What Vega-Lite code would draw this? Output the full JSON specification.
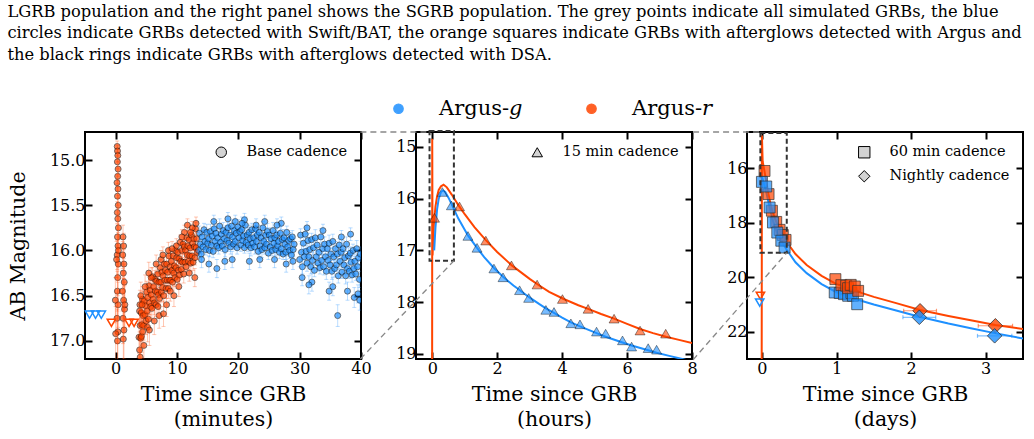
{
  "$schema": "https://vega.github.io/schema/vega-lite/v6.json",
  "padding": {"left": 7, "top": 3, "right": 4, "bottom": 4},
  "title": {
    "text": [
      "LGRB population and the right panel shows the SGRB population.  The grey points indicate all simulated GRBs, the blue",
      "circles indicate GRBs detected with Swift/BAT, the orange squares indicate GRBs with afterglows detected with Argus and",
      "the black rings indicate GRBs with afterglows detected with DSA."
    ],
    "anchor": "start",
    "frame": "bounds",
    "dx": 0,
    "font": "DejaVu Serif",
    "fontSize": 16.3,
    "fontWeight": "normal",
    "lineHeight": 21.5,
    "color": "black",
    "offset": 35
  },
  "bounds": "flush",
  "spacing": 55,
  "datasets": {
    "p1": [
      {"t":0.25,"m":14.85,"e":0.06,"b":"r"},{"t":0.3,"m":14.9,"e":0.06,"b":"r"},{"t":0.35,"m":14.95,"e":0.07,"b":"r"},
      {"t":0.28,"m":15.02,"e":0.07,"b":"r"},{"t":0.4,"m":15.1,"e":0.08,"b":"r"},{"t":0.33,"m":15.18,"e":0.08,"b":"r"},
      {"t":0.22,"m":15.25,"e":0.09,"b":"r"},{"t":0.38,"m":15.32,"e":0.1,"b":"r"},{"t":0.3,"m":15.4,"e":0.1,"b":"r"},
      {"t":0.42,"m":15.5,"e":0.11,"b":"r"},{"t":0.27,"m":15.58,"e":0.12,"b":"r"},{"t":0.35,"m":15.65,"e":0.12,"b":"r"},
      {"t":0.45,"m":15.75,"e":0.13,"b":"r"},{"t":0.3,"m":15.85,"e":0.14,"b":"r"},{"t":0.38,"m":15.95,"e":0.15,"b":"r"},
      {"t":0.25,"m":16.05,"e":0.16,"b":"r"},{"t":0.42,"m":16.15,"e":0.18,"b":"r"},{"t":0.33,"m":16.3,"e":0.2,"b":"r"},
      {"t":0.28,"m":16.45,"e":0.22,"b":"r"},{"t":0.4,"m":16.6,"e":0.25,"b":"r"},{"t":0.22,"m":16.75,"e":0.28,"b":"r"},
      {"t":0.36,"m":16.9,"e":0.32,"b":"r"},{"t":0.3,"m":17.0,"e":0.35,"b":"r"},{"t":0.15,"m":16.1,"e":0.2,"b":"r"},
      {"t":0.45,"m":16.0,"e":0.18,"b":"r"},{"t":0.0,"m":16.92,"e":0.3,"b":"r"},{"t":-0.05,"m":16.55,"e":0.25,"b":"r"},
      {"t":1.2,"m":15.85,"e":0.13,"b":"r"},{"t":1.3,"m":15.95,"e":0.14,"b":"r"},{"t":1.15,"m":16.05,"e":0.15,"b":"r"},
      {"t":1.35,"m":16.15,"e":0.16,"b":"r"},{"t":1.25,"m":16.25,"e":0.18,"b":"r"},{"t":1.4,"m":16.35,"e":0.2,"b":"r"},
      {"t":1.1,"m":16.45,"e":0.22,"b":"r"},{"t":1.3,"m":16.55,"e":0.24,"b":"r"},{"t":1.45,"m":16.65,"e":0.26,"b":"r"},
      {"t":1.2,"m":16.75,"e":0.28,"b":"r"},{"t":1.35,"m":16.88,"e":0.32,"b":"r"},{"t":1.25,"m":16.98,"e":0.36,"b":"r"},
      {"t":1.5,"m":16.6,"e":0.25,"b":"r"},
      {"t":3.8,"m":16.96,"e":0.18,"b":"r"},{"t":3.9,"m":16.67,"e":0.16,"b":"r"},{"t":3.99,"m":16.83,"e":0.17,"b":"r"},
      {"t":4.09,"m":16.97,"e":0.18,"b":"r"},{"t":4.18,"m":16.69,"e":0.15,"b":"r"},{"t":4.28,"m":16.82,"e":0.16,"b":"r"},
      {"t":4.38,"m":16.54,"e":0.14,"b":"r"},{"t":4.47,"m":16.72,"e":0.15,"b":"r"},{"t":4.57,"m":16.83,"e":0.16,"b":"r"},
      {"t":4.66,"m":16.56,"e":0.13,"b":"r"},{"t":4.76,"m":16.71,"e":0.14,"b":"r"},{"t":4.86,"m":16.61,"e":0.13,"b":"r"},
      {"t":4.95,"m":16.78,"e":0.15,"b":"r"},{"t":5.05,"m":16.46,"e":0.12,"b":"r"},{"t":5.14,"m":16.67,"e":0.14,"b":"r"},
      {"t":5.24,"m":16.52,"e":0.12,"b":"r"},{"t":5.34,"m":16.76,"e":0.15,"b":"r"},{"t":5.43,"m":16.39,"e":0.11,"b":"r"},
      {"t":5.53,"m":16.58,"e":0.13,"b":"r"},{"t":5.62,"m":16.44,"e":0.12,"b":"r"},{"t":5.72,"m":16.62,"e":0.13,"b":"r"},
      {"t":5.82,"m":16.49,"e":0.11,"b":"r"},{"t":5.91,"m":16.64,"e":0.13,"b":"r"},{"t":6.01,"m":16.29,"e":0.1,"b":"r"},
      {"t":6.1,"m":16.54,"e":0.12,"b":"r"},{"t":6.2,"m":16.4,"e":0.11,"b":"r"},{"t":6.3,"m":16.58,"e":0.13,"b":"r"},
      {"t":6.39,"m":16.32,"e":0.1,"b":"r"},{"t":6.49,"m":16.45,"e":0.11,"b":"r"},{"t":6.58,"m":16.6,"e":0.13,"b":"r"},
      {"t":6.68,"m":16.34,"e":0.1,"b":"r"},{"t":6.78,"m":16.46,"e":0.11,"b":"r"},{"t":6.87,"m":16.26,"e":0.1,"b":"r"},
      {"t":6.97,"m":16.49,"e":0.12,"b":"r"},{"t":7.06,"m":16.35,"e":0.1,"b":"r"},{"t":7.16,"m":16.53,"e":0.12,"b":"r"},
      {"t":7.26,"m":16.19,"e":0.09,"b":"r"},{"t":7.35,"m":16.35,"e":0.1,"b":"r"},{"t":7.45,"m":16.46,"e":0.11,"b":"r"},
      {"t":7.54,"m":16.24,"e":0.09,"b":"r"},{"t":7.64,"m":16.41,"e":0.11,"b":"r"},{"t":7.74,"m":16.28,"e":0.1,"b":"r"},
      {"t":7.83,"m":16.5,"e":0.12,"b":"r"},{"t":7.93,"m":16.15,"e":0.09,"b":"r"},{"t":8.02,"m":16.33,"e":0.1,"b":"r"},
      {"t":8.12,"m":16.22,"e":0.09,"b":"r"},{"t":8.22,"m":16.42,"e":0.11,"b":"r"},{"t":8.31,"m":16.15,"e":0.09,"b":"r"},
      {"t":8.41,"m":16.33,"e":0.1,"b":"r"},{"t":8.5,"m":16.24,"e":0.09,"b":"r"},{"t":8.6,"m":16.42,"e":0.11,"b":"r"},
      {"t":8.7,"m":16.06,"e":0.08,"b":"r"},{"t":8.79,"m":16.33,"e":0.1,"b":"r"},{"t":8.89,"m":16.18,"e":0.09,"b":"r"},
      {"t":8.98,"m":16.33,"e":0.1,"b":"r"},{"t":9.08,"m":16.12,"e":0.09,"b":"r"},{"t":9.18,"m":16.22,"e":0.09,"b":"r"},
      {"t":9.27,"m":16.35,"e":0.1,"b":"r"},{"t":9.37,"m":16.06,"e":0.08,"b":"r"},{"t":9.46,"m":16.25,"e":0.09,"b":"r"},
      {"t":9.56,"m":16.17,"e":0.09,"b":"r"},{"t":9.66,"m":16.3,"e":0.1,"b":"r"},{"t":9.75,"m":16.0,"e":0.08,"b":"r"},
      {"t":9.85,"m":16.19,"e":0.09,"b":"r"},{"t":9.94,"m":16.08,"e":0.08,"b":"r"},{"t":10.04,"m":16.32,"e":0.1,"b":"r"},
      {"t":10.14,"m":16.02,"e":0.08,"b":"r"},{"t":10.23,"m":16.22,"e":0.09,"b":"r"},{"t":10.33,"m":16.09,"e":0.08,"b":"r"},
      {"t":10.42,"m":16.27,"e":0.1,"b":"r"},{"t":10.52,"m":15.91,"e":0.08,"b":"r"},{"t":10.62,"m":16.12,"e":0.09,"b":"r"},
      {"t":10.71,"m":16.21,"e":0.09,"b":"r"},{"t":10.81,"m":16.0,"e":0.08,"b":"r"},{"t":10.9,"m":16.13,"e":0.09,"b":"r"},
      {"t":11.0,"m":15.93,"e":0.08,"b":"r"},{"t":11.1,"m":16.26,"e":0.1,"b":"r"},{"t":11.19,"m":15.96,"e":0.08,"b":"r"},
      {"t":11.29,"m":16.13,"e":0.09,"b":"r"},{"t":11.38,"m":16.0,"e":0.08,"b":"r"},{"t":11.48,"m":16.18,"e":0.09,"b":"r"},
      {"t":11.58,"m":15.86,"e":0.08,"b":"r"},{"t":11.67,"m":16.05,"e":0.08,"b":"r"},{"t":11.77,"m":15.95,"e":0.08,"b":"r"},
      {"t":11.86,"m":16.12,"e":0.09,"b":"r"},{"t":11.96,"m":15.88,"e":0.08,"b":"r"},{"t":12.06,"m":16.06,"e":0.08,"b":"r"},
      {"t":12.15,"m":15.97,"e":0.08,"b":"r"},{"t":12.25,"m":16.14,"e":0.09,"b":"r"},{"t":12.34,"m":15.83,"e":0.07,"b":"r"},
      {"t":12.44,"m":16.06,"e":0.08,"b":"r"},{"t":12.54,"m":15.92,"e":0.08,"b":"r"},{"t":12.63,"m":16.13,"e":0.09,"b":"r"},
      {"t":12.73,"m":15.87,"e":0.08,"b":"r"},{"t":12.82,"m":15.96,"e":0.08,"b":"r"},{"t":12.92,"m":16.08,"e":0.08,"b":"r"},
      {"t":13.02,"m":15.76,"e":0.07,"b":"r"},{"t":13.11,"m":15.97,"e":0.08,"b":"r"},{"t":13.21,"m":15.87,"e":0.07,"b":"r"},
      {"t":13.3,"m":16.02,"e":0.08,"b":"r"},
      {"t":3.9,"m":17.1,"e":0.2,"b":"r"},{"t":4.0,"m":17.18,"e":0.22,"b":"r"},{"t":4.2,"m":16.95,"e":0.18,"b":"r"},
      {"t":4.1,"m":16.5,"e":0.15,"b":"r"},{"t":4.4,"m":16.9,"e":0.17,"b":"r"},{"t":4.6,"m":17.05,"e":0.2,"b":"r"},
      {"t":5.2,"m":16.85,"e":0.16,"b":"r"},{"t":5.5,"m":16.88,"e":0.17,"b":"r"},{"t":6.3,"m":16.78,"e":0.15,"b":"r"},
      {"t":7.1,"m":16.72,"e":0.14,"b":"r"},{"t":7.8,"m":16.7,"e":0.14,"b":"r"},{"t":8.3,"m":16.6,"e":0.13,"b":"r"},
      {"t":9.5,"m":16.5,"e":0.12,"b":"r"},{"t":11.7,"m":15.72,"e":0.07,"b":"r"},{"t":12.5,"m":15.75,"e":0.07,"b":"r"},
      {"t":12.9,"m":16.3,"e":0.1,"b":"r"},{"t":3.95,"m":16.6,"e":0.16,"b":"r"},{"t":4.3,"m":16.6,"e":0.15,"b":"r"},
      {"t":5.8,"m":16.3,"e":0.11,"b":"r"},{"t":6.6,"m":16.15,"e":0.1,"b":"r"},{"t":7.4,"m":16.1,"e":0.1,"b":"r"},
      {"t":8.6,"m":16.0,"e":0.09,"b":"r"},{"t":9.9,"m":15.95,"e":0.08,"b":"r"},{"t":11.2,"m":15.8,"e":0.08,"b":"r"},
      {"t":12.2,"m":15.8,"e":0.07,"b":"r"},{"t":13.1,"m":15.7,"e":0.07,"b":"r"},{"t":4.8,"m":16.4,"e":0.13,"b":"r"},
      {"t":5.4,"m":16.25,"e":0.12,"b":"r"},{"t":6.9,"m":16.62,"e":0.13,"b":"r"},{"t":8.9,"m":16.45,"e":0.11,"b":"r"},
      {"t":10.3,"m":16.4,"e":0.11,"b":"r"},{"t":10.8,"m":15.85,"e":0.08,"b":"r"},{"t":12.0,"m":16.25,"e":0.09,"b":"r"},
      {"t":9.2,"m":15.98,"e":0.08,"b":"r"},{"t":7.7,"m":16.05,"e":0.09,"b":"r"},
      {"t":13.5,"m":16.0,"e":0.07,"b":"g"},{"t":13.65,"m":15.81,"e":0.08,"b":"g"},{"t":13.8,"m":15.93,"e":0.06,"b":"g"},
      {"t":13.95,"m":16.04,"e":0.09,"b":"g"},{"t":14.1,"m":15.85,"e":0.07,"b":"g"},{"t":14.25,"m":15.96,"e":0.08,"b":"g"},
      {"t":14.4,"m":15.77,"e":0.07,"b":"g"},{"t":14.55,"m":15.9,"e":0.08,"b":"g"},{"t":14.7,"m":15.99,"e":0.06,"b":"g"},
      {"t":14.85,"m":15.8,"e":0.09,"b":"g"},{"t":15.0,"m":15.92,"e":0.07,"b":"g"},{"t":15.15,"m":15.87,"e":0.08,"b":"g"},
      {"t":15.3,"m":16.0,"e":0.07,"b":"g"},{"t":15.45,"m":15.79,"e":0.08,"b":"g"},{"t":15.6,"m":15.94,"e":0.06,"b":"g"},
      {"t":15.75,"m":15.84,"e":0.09,"b":"g"},{"t":15.9,"m":16.01,"e":0.07,"b":"g"},{"t":16.05,"m":15.76,"e":0.08,"b":"g"},
      {"t":16.2,"m":15.9,"e":0.07,"b":"g"},{"t":16.35,"m":15.81,"e":0.08,"b":"g"},{"t":16.5,"m":15.95,"e":0.06,"b":"g"},
      {"t":16.65,"m":15.86,"e":0.09,"b":"g"},{"t":16.8,"m":15.97,"e":0.07,"b":"g"},{"t":16.95,"m":15.73,"e":0.08,"b":"g"},
      {"t":17.1,"m":15.91,"e":0.07,"b":"g"},{"t":17.25,"m":15.82,"e":0.08,"b":"g"},{"t":17.4,"m":15.95,"e":0.06,"b":"g"},
      {"t":17.55,"m":15.78,"e":0.09,"b":"g"},{"t":17.7,"m":15.87,"e":0.07,"b":"g"},{"t":17.85,"m":15.99,"e":0.08,"b":"g"},
      {"t":18.0,"m":15.8,"e":0.07,"b":"g"},{"t":18.15,"m":15.89,"e":0.08,"b":"g"},{"t":18.3,"m":15.75,"e":0.06,"b":"g"},
      {"t":18.45,"m":15.92,"e":0.09,"b":"g"},{"t":18.6,"m":15.83,"e":0.07,"b":"g"},{"t":18.75,"m":15.96,"e":0.08,"b":"g"},
      {"t":18.9,"m":15.73,"e":0.07,"b":"g"},{"t":19.05,"m":15.85,"e":0.08,"b":"g"},{"t":19.2,"m":15.93,"e":0.06,"b":"g"},
      {"t":19.35,"m":15.78,"e":0.09,"b":"g"},{"t":19.5,"m":15.9,"e":0.07,"b":"g"},{"t":19.65,"m":15.81,"e":0.08,"b":"g"},
      {"t":19.8,"m":15.97,"e":0.07,"b":"g"},{"t":19.95,"m":15.74,"e":0.08,"b":"g"},{"t":20.1,"m":15.86,"e":0.06,"b":"g"},
      {"t":20.25,"m":15.79,"e":0.09,"b":"g"},{"t":20.4,"m":15.94,"e":0.07,"b":"g"},{"t":20.55,"m":15.77,"e":0.08,"b":"g"},
      {"t":20.7,"m":15.89,"e":0.07,"b":"g"},{"t":20.85,"m":15.84,"e":0.08,"b":"g"},{"t":21.0,"m":15.97,"e":0.06,"b":"g"},
      {"t":21.15,"m":15.72,"e":0.09,"b":"g"},{"t":21.3,"m":15.91,"e":0.07,"b":"g"},{"t":21.45,"m":15.83,"e":0.08,"b":"g"},
      {"t":21.6,"m":15.94,"e":0.07,"b":"g"},{"t":21.75,"m":15.8,"e":0.08,"b":"g"},{"t":21.9,"m":15.87,"e":0.06,"b":"g"},
      {"t":22.05,"m":15.97,"e":0.09,"b":"g"},{"t":22.2,"m":15.77,"e":0.07,"b":"g"},{"t":22.35,"m":15.92,"e":0.08,"b":"g"},
      {"t":22.5,"m":15.86,"e":0.07,"b":"g"},{"t":22.65,"m":15.96,"e":0.08,"b":"g"},{"t":22.8,"m":15.76,"e":0.06,"b":"g"},
      {"t":22.95,"m":15.9,"e":0.09,"b":"g"},{"t":23.1,"m":15.83,"e":0.07,"b":"g"},{"t":23.25,"m":16.01,"e":0.08,"b":"g"},
      {"t":23.4,"m":15.8,"e":0.07,"b":"g"},{"t":23.55,"m":15.95,"e":0.08,"b":"g"},{"t":23.7,"m":15.86,"e":0.06,"b":"g"},
      {"t":23.85,"m":15.99,"e":0.09,"b":"g"},{"t":24.0,"m":15.75,"e":0.07,"b":"g"},{"t":24.15,"m":15.9,"e":0.08,"b":"g"},
      {"t":24.3,"m":15.97,"e":0.07,"b":"g"},{"t":24.45,"m":15.83,"e":0.08,"b":"g"},{"t":24.6,"m":15.93,"e":0.06,"b":"g"},
      {"t":24.75,"m":15.79,"e":0.09,"b":"g"},{"t":24.9,"m":16.03,"e":0.07,"b":"g"},{"t":25.05,"m":15.83,"e":0.08,"b":"g"},
      {"t":25.2,"m":15.96,"e":0.07,"b":"g"},{"t":25.35,"m":15.87,"e":0.08,"b":"g"},{"t":25.5,"m":16.0,"e":0.06,"b":"g"},
      {"t":25.65,"m":15.78,"e":0.09,"b":"g"},{"t":25.8,"m":15.92,"e":0.07,"b":"g"},{"t":25.95,"m":15.86,"e":0.08,"b":"g"},
      {"t":26.1,"m":15.99,"e":0.07,"b":"g"},{"t":26.25,"m":15.83,"e":0.08,"b":"g"},{"t":26.4,"m":15.95,"e":0.06,"b":"g"},
      {"t":26.55,"m":15.9,"e":0.09,"b":"g"},{"t":26.7,"m":16.02,"e":0.07,"b":"g"},{"t":26.85,"m":15.81,"e":0.08,"b":"g"},
      {"t":27.0,"m":15.98,"e":0.07,"b":"g"},{"t":27.15,"m":15.88,"e":0.08,"b":"g"},{"t":27.3,"m":16.04,"e":0.06,"b":"g"},
      {"t":27.45,"m":15.86,"e":0.09,"b":"g"},{"t":27.6,"m":15.93,"e":0.07,"b":"g"},{"t":27.75,"m":16.02,"e":0.08,"b":"g"},
      {"t":27.9,"m":15.8,"e":0.07,"b":"g"},{"t":28.05,"m":15.96,"e":0.08,"b":"g"},{"t":28.2,"m":15.89,"e":0.06,"b":"g"},
      {"t":28.35,"m":16.0,"e":0.09,"b":"g"},{"t":28.5,"m":15.87,"e":0.07,"b":"g"},{"t":28.65,"m":16.05,"e":0.08,"b":"g"},
      {"t":28.8,"m":15.85,"e":0.07,"b":"g"},{"t":28.95,"m":15.99,"e":0.08,"b":"g"},{"t":29.1,"m":15.93,"e":0.06,"b":"g"},
      {"t":14.0,"m":16.1,"e":0.09,"b":"g"},{"t":15.2,"m":16.15,"e":0.09,"b":"g"},{"t":16.5,"m":16.2,"e":0.1,"b":"g"},
      {"t":17.8,"m":16.12,"e":0.09,"b":"g"},{"t":19.0,"m":16.1,"e":0.09,"b":"g"},{"t":21.8,"m":16.12,"e":0.09,"b":"g"},
      {"t":23.5,"m":16.1,"e":0.09,"b":"g"},{"t":25.9,"m":16.1,"e":0.09,"b":"g"},{"t":27.8,"m":16.15,"e":0.09,"b":"g"},
      {"t":28.9,"m":16.12,"e":0.09,"b":"g"},{"t":16.0,"m":15.68,"e":0.07,"b":"g"},{"t":19.5,"m":15.68,"e":0.07,"b":"g"},
      {"t":21.0,"m":15.66,"e":0.07,"b":"g"},{"t":24.3,"m":15.68,"e":0.07,"b":"g"},{"t":27.0,"m":15.7,"e":0.07,"b":"g"},
      {"t":18.3,"m":15.65,"e":0.07,"b":"g"},{"t":20.6,"m":15.7,"e":0.07,"b":"g"},{"t":22.9,"m":15.72,"e":0.07,"b":"g"},
      {"t":26.3,"m":15.72,"e":0.07,"b":"g"},
      {"t":30.0,"m":16.1,"e":0.08,"b":"g"},{"t":30.15,"m":15.83,"e":0.07,"b":"g"},{"t":30.3,"m":16.02,"e":0.09,"b":"g"},
      {"t":30.45,"m":16.18,"e":0.08,"b":"g"},{"t":30.6,"m":15.92,"e":0.07,"b":"g"},{"t":30.75,"m":16.07,"e":0.09,"b":"g"},
      {"t":30.9,"m":15.82,"e":0.08,"b":"g"},{"t":31.05,"m":16.01,"e":0.07,"b":"g"},{"t":31.2,"m":16.14,"e":0.09,"b":"g"},
      {"t":31.35,"m":15.89,"e":0.08,"b":"g"},{"t":31.5,"m":16.07,"e":0.07,"b":"g"},{"t":31.65,"m":15.99,"e":0.09,"b":"g"},
      {"t":31.8,"m":16.18,"e":0.08,"b":"g"},{"t":31.95,"m":15.88,"e":0.07,"b":"g"},{"t":32.1,"m":16.11,"e":0.09,"b":"g"},
      {"t":32.25,"m":15.97,"e":0.08,"b":"g"},{"t":32.4,"m":16.22,"e":0.07,"b":"g"},{"t":32.55,"m":15.86,"e":0.09,"b":"g"},
      {"t":32.7,"m":16.07,"e":0.08,"b":"g"},{"t":32.85,"m":15.94,"e":0.07,"b":"g"},{"t":33.0,"m":16.14,"e":0.09,"b":"g"},
      {"t":33.15,"m":16.02,"e":0.08,"b":"g"},{"t":33.3,"m":16.19,"e":0.07,"b":"g"},{"t":33.45,"m":15.85,"e":0.09,"b":"g"},
      {"t":33.6,"m":16.11,"e":0.08,"b":"g"},{"t":33.75,"m":15.98,"e":0.07,"b":"g"},{"t":33.9,"m":16.18,"e":0.09,"b":"g"},
      {"t":34.05,"m":15.93,"e":0.08,"b":"g"},{"t":34.2,"m":16.07,"e":0.07,"b":"g"},{"t":34.35,"m":16.23,"e":0.09,"b":"g"},
      {"t":34.5,"m":15.98,"e":0.08,"b":"g"},{"t":34.65,"m":16.11,"e":0.07,"b":"g"},{"t":34.8,"m":15.92,"e":0.09,"b":"g"},
      {"t":34.95,"m":16.16,"e":0.08,"b":"g"},{"t":35.1,"m":16.04,"e":0.07,"b":"g"},{"t":35.25,"m":16.23,"e":0.09,"b":"g"},
      {"t":35.4,"m":15.9,"e":0.08,"b":"g"},{"t":35.55,"m":16.07,"e":0.07,"b":"g"},{"t":35.7,"m":16.2,"e":0.09,"b":"g"},
      {"t":35.85,"m":15.98,"e":0.08,"b":"g"},{"t":36.0,"m":16.16,"e":0.07,"b":"g"},{"t":36.15,"m":16.04,"e":0.09,"b":"g"},
      {"t":36.3,"m":16.28,"e":0.08,"b":"g"},{"t":36.45,"m":15.94,"e":0.07,"b":"g"},{"t":36.6,"m":16.12,"e":0.09,"b":"g"},
      {"t":36.75,"m":16.02,"e":0.08,"b":"g"},{"t":36.9,"m":16.24,"e":0.07,"b":"g"},{"t":37.05,"m":15.98,"e":0.09,"b":"g"},
      {"t":37.2,"m":16.16,"e":0.08,"b":"g"},{"t":37.35,"m":16.08,"e":0.07,"b":"g"},{"t":37.5,"m":16.28,"e":0.09,"b":"g"},
      {"t":37.65,"m":15.93,"e":0.08,"b":"g"},{"t":37.8,"m":16.2,"e":0.07,"b":"g"},{"t":37.95,"m":16.06,"e":0.09,"b":"g"},
      {"t":38.1,"m":16.23,"e":0.08,"b":"g"},{"t":38.25,"m":16.03,"e":0.07,"b":"g"},{"t":38.4,"m":16.13,"e":0.09,"b":"g"},
      {"t":38.55,"m":16.27,"e":0.08,"b":"g"},{"t":38.7,"m":16.0,"e":0.07,"b":"g"},{"t":38.85,"m":16.2,"e":0.09,"b":"g"},
      {"t":39.0,"m":16.12,"e":0.08,"b":"g"},{"t":39.15,"m":16.26,"e":0.07,"b":"g"},{"t":39.3,"m":15.98,"e":0.09,"b":"g"},
      {"t":39.45,"m":16.18,"e":0.08,"b":"g"},{"t":39.6,"m":16.08,"e":0.07,"b":"g"},{"t":39.75,"m":16.32,"e":0.09,"b":"g"},
      {"t":39.9,"m":16.04,"e":0.08,"b":"g"},
      {"t":32.0,"m":16.35,"e":0.1,"b":"g"},{"t":31.5,"m":16.38,"e":0.1,"b":"g"},{"t":34.8,"m":16.45,"e":0.1,"b":"g"},
      {"t":36.2,"m":16.72,"e":0.12,"b":"g"},{"t":37.8,"m":16.45,"e":0.1,"b":"g"},{"t":38.9,"m":16.52,"e":0.11,"b":"g"},
      {"t":39.5,"m":16.48,"e":0.1,"b":"g"},{"t":31.2,"m":15.75,"e":0.07,"b":"g"},{"t":33.8,"m":15.78,"e":0.07,"b":"g"},
      {"t":36.8,"m":15.85,"e":0.07,"b":"g"},{"t":38.3,"m":15.82,"e":0.07,"b":"g"},{"t":35.4,"m":16.4,"e":0.1,"b":"g"},
      {"t":30.4,"m":16.3,"e":0.09,"b":"g"},{"t":39.8,"m":16.55,"e":0.11,"b":"g"}
    ],
    "p1lim": [
      {"t":-4.26,"m":16.71,"b":"g"},{"t":-3.28,"m":16.71,"b":"g"},{"t":-2.34,"m":16.71,"b":"g"},
      {"t":-0.7,"m":16.8,"b":"r"},{"t":2.18,"m":16.8,"b":"r"},{"t":3.0,"m":16.8,"b":"r"}
    ],
    "p2": [
      {"t":0.07,"m":16.37,"b":"r"},{"t":0.84,"m":16.15,"b":"r"},{"t":1.65,"m":16.81,"b":"r"},{"t":2.44,"m":17.29,"b":"r"},
      {"t":3.23,"m":17.66,"b":"r"},{"t":4.01,"m":17.94,"b":"r"},{"t":4.8,"m":18.13,"b":"r"},{"t":5.6,"m":18.32,"b":"r"},
      {"t":6.4,"m":18.55,"b":"r"},{"t":7.19,"m":18.61,"b":"r"},
      {"t":0.31,"m":15.87,"b":"g"},{"t":0.59,"m":16.13,"b":"g"},{"t":1.1,"m":16.72,"b":"g"},{"t":1.38,"m":16.95,"b":"g"},
      {"t":1.9,"m":17.35,"b":"g"},{"t":2.18,"m":17.52,"b":"g"},{"t":2.69,"m":17.77,"b":"g"},{"t":2.97,"m":17.92,"b":"g"},
      {"t":3.5,"m":18.15,"b":"g"},{"t":3.75,"m":18.19,"b":"g"},{"t":4.27,"m":18.41,"b":"g"},{"t":4.55,"m":18.43,"b":"g"},
      {"t":5.06,"m":18.57,"b":"g"},{"t":5.34,"m":18.61,"b":"g"},{"t":5.86,"m":18.74,"b":"g"},{"t":6.14,"m":18.86,"b":"g"},
      {"t":6.65,"m":18.89,"b":"g"},{"t":6.91,"m":18.92,"b":"g"}
    ],
    "p2c": [
      {"t":-0.003,"m":19.3,"b":"r"},{"t":0.0,"m":14.84,"b":"r"},{"t":0.01,"m":17.1,"b":"r"},{"t":0.05,"m":16.5,"b":"r"},
      {"t":0.1,"m":16.15,"b":"r"},{"t":0.15,"m":15.95,"b":"r"},{"t":0.2,"m":15.83,"b":"r"},{"t":0.27,"m":15.76,"b":"r"},
      {"t":0.35,"m":15.73,"b":"r"},{"t":0.45,"m":15.78,"b":"r"},{"t":0.6,"m":15.92,"b":"r"},{"t":0.8,"m":16.12,"b":"r"},
      {"t":1.0,"m":16.3,"b":"r"},{"t":1.3,"m":16.55,"b":"r"},{"t":1.65,"m":16.8,"b":"r"},{"t":2.0,"m":17.03,"b":"r"},
      {"t":2.45,"m":17.29,"b":"r"},{"t":3.0,"m":17.55,"b":"r"},{"t":3.25,"m":17.66,"b":"r"},{"t":3.6,"m":17.8,"b":"r"},
      {"t":4.05,"m":17.94,"b":"r"},{"t":4.5,"m":18.06,"b":"r"},{"t":4.8,"m":18.13,"b":"r"},{"t":5.2,"m":18.23,"b":"r"},
      {"t":5.6,"m":18.32,"b":"r"},{"t":6.0,"m":18.42,"b":"r"},{"t":6.4,"m":18.52,"b":"r"},{"t":6.8,"m":18.6,"b":"r"},
      {"t":7.2,"m":18.67,"b":"r"},{"t":7.6,"m":18.73,"b":"r"},{"t":8.0,"m":18.79,"b":"r"},
      {"t":0.06,"m":17.0,"b":"g"},{"t":0.1,"m":16.55,"b":"g"},{"t":0.15,"m":16.2,"b":"g"},{"t":0.2,"m":16.0,"b":"g"},
      {"t":0.27,"m":15.87,"b":"g"},{"t":0.33,"m":15.84,"b":"g"},{"t":0.4,"m":15.87,"b":"g"},{"t":0.5,"m":15.98,"b":"g"},
      {"t":0.6,"m":16.11,"b":"g"},{"t":0.8,"m":16.38,"b":"g"},{"t":1.0,"m":16.6,"b":"g"},{"t":1.1,"m":16.71,"b":"g"},
      {"t":1.38,"m":16.95,"b":"g"},{"t":1.6,"m":17.13,"b":"g"},{"t":1.9,"m":17.34,"b":"g"},{"t":2.18,"m":17.51,"b":"g"},
      {"t":2.5,"m":17.68,"b":"g"},{"t":2.7,"m":17.77,"b":"g"},{"t":2.97,"m":17.9,"b":"g"},{"t":3.3,"m":18.04,"b":"g"},
      {"t":3.5,"m":18.12,"b":"g"},{"t":3.75,"m":18.21,"b":"g"},{"t":4.0,"m":18.3,"b":"g"},{"t":4.27,"m":18.39,"b":"g"},
      {"t":4.55,"m":18.47,"b":"g"},{"t":5.06,"m":18.6,"b":"g"},{"t":5.34,"m":18.67,"b":"g"},{"t":5.86,"m":18.78,"b":"g"},
      {"t":6.14,"m":18.84,"b":"g"},{"t":6.65,"m":18.93,"b":"g"},{"t":6.91,"m":18.98,"b":"g"},{"t":7.3,"m":19.04,"b":"g"},
      {"t":7.7,"m":19.1,"b":"g"},{"t":8.0,"m":19.15,"b":"g"}
    ],
    "p3sq": [
      {"t":0.035,"m":16.1,"b":"r"},{"t":0.089,"m":16.95,"b":"r"},{"t":0.134,"m":17.56,"b":"r"},{"t":0.192,"m":17.97,"b":"r"},
      {"t":0.237,"m":18.26,"b":"r"},{"t":0.28,"m":18.45,"b":"r"},{"t":0.317,"m":18.63,"b":"r"},
      {"t":0.0,"m":16.5,"b":"g"},{"t":0.058,"m":16.67,"b":"g"},{"t":0.103,"m":17.44,"b":"g"},{"t":0.148,"m":17.99,"b":"g"},
      {"t":0.206,"m":18.36,"b":"g"},{"t":0.26,"m":18.66,"b":"g"},{"t":0.304,"m":18.91,"b":"g"},
      {"t":0.976,"m":20.56,"b":"g"},{"t":1.043,"m":20.58,"b":"g"},{"t":1.1,"m":20.62,"b":"g"},{"t":1.156,"m":20.68,"b":"g"},
      {"t":1.2,"m":20.58,"b":"g"},{"t":1.22,"m":20.68,"b":"g"},{"t":1.277,"m":20.99,"b":"g"},
      {"t":0.985,"m":20.07,"b":"r"},{"t":1.065,"m":20.29,"b":"r"},{"t":1.13,"m":20.31,"b":"r"},{"t":1.155,"m":20.4,"b":"r"},
      {"t":1.19,"m":20.28,"b":"r"},{"t":1.245,"m":20.34,"b":"r"},{"t":1.29,"m":20.5,"b":"r"}
    ],
    "p3dm": [
      {"t":2.12,"m":21.23,"xe":0.22,"b":"r"},{"t":2.11,"m":21.47,"xe":0.22,"b":"g"},
      {"t":3.13,"m":21.78,"xe":0.23,"b":"r"},{"t":3.12,"m":22.15,"xe":0.23,"b":"g"}
    ],
    "p3lim": [
      {"t":-0.02,"m":20.68,"b":"r"},{"t":-0.03,"m":20.93,"b":"g"}
    ],
    "p3c": [
      {"t":-0.003,"m":23.2,"b":"r"},{"t":0.0,"m":14.8,"b":"r"},{"t":0.01,"m":15.75,"b":"r"},{"t":0.02,"m":15.9,"b":"r"},
      {"t":0.04,"m":16.2,"b":"r"},{"t":0.08,"m":16.85,"b":"r"},{"t":0.13,"m":17.5,"b":"r"},{"t":0.19,"m":17.95,"b":"r"},
      {"t":0.25,"m":18.3,"b":"r"},{"t":0.33,"m":18.7,"b":"r"},{"t":0.45,"m":19.15,"b":"r"},{"t":0.6,"m":19.55,"b":"r"},
      {"t":0.8,"m":19.95,"b":"r"},{"t":1.0,"m":20.25,"b":"r"},{"t":1.25,"m":20.5,"b":"r"},{"t":1.5,"m":20.72,"b":"r"},
      {"t":1.8,"m":20.95,"b":"r"},{"t":2.12,"m":21.2,"b":"r"},{"t":2.5,"m":21.42,"b":"r"},{"t":2.8,"m":21.58,"b":"r"},
      {"t":3.13,"m":21.75,"b":"r"},{"t":3.5,"m":21.9,"b":"r"},
      {"t":0.0,"m":16.3,"b":"g"},{"t":0.03,"m":16.6,"b":"g"},{"t":0.06,"m":16.9,"b":"g"},{"t":0.1,"m":17.4,"b":"g"},
      {"t":0.15,"m":17.95,"b":"g"},{"t":0.2,"m":18.35,"b":"g"},{"t":0.26,"m":18.65,"b":"g"},{"t":0.33,"m":18.98,"b":"g"},
      {"t":0.45,"m":19.45,"b":"g"},{"t":0.6,"m":19.85,"b":"g"},{"t":0.8,"m":20.25,"b":"g"},{"t":1.0,"m":20.55,"b":"g"},
      {"t":1.25,"m":20.8,"b":"g"},{"t":1.5,"m":21.0,"b":"g"},{"t":1.8,"m":21.22,"b":"g"},{"t":2.11,"m":21.45,"b":"g"},
      {"t":2.5,"m":21.7,"b":"g"},{"t":2.8,"m":21.87,"b":"g"},{"t":3.12,"m":22.05,"b":"g"},{"t":3.5,"m":22.25,"b":"g"}
    ]
  },
  "hconcat": [
    {
      "width": 276,
      "height": 227,
      "layer": [
        {
          "data": {"name": "p1"},
          "mark": {"type": "point", "filled": true, "size": 36, "opacity": 0.68, "stroke": "black", "strokeWidth": 0.8, "clip": true},
          "encoding": {
            "x": {"field": "t", "type": "quantitative", "axis": null},
            "y": {"field": "m", "type": "quantitative", "axis": null},
            "color": {"field": "b", "type": "nominal",
              "legend": {"orient": "none", "legendX": 303, "legendY": -34, "direction": "horizontal", "title": null,
                         "symbolType": "circle", "symbolSize": 90, "symbolStrokeColor": "#222222", "symbolStrokeWidth": 1.2,
                         "symbolOpacity": 0.85, "labelFontSize": 21, "labelOffset": 30, "columnPadding": 58,
                         "labelExpr": "datum.label == 'g' ? 'Argus-𝑔' : 'Argus-𝑟'",
                         "encode": {"symbols": {"update": {"stroke": {"value": "#222222"}, "strokeWidth": {"value": 1.2}}}}}},
            "shape": {"datum": "Base cadence", "scale": {"range": ["circle"]},
              "legend": {"orient": "top-right", "offset": 13, "title": null, "symbolFillColor": "#d3d3d3", "symbolStrokeColor": "black",
                         "symbolStrokeWidth": 1, "symbolSize": 110, "symbolOpacity": 1, "labelFontSize": 14.5, "labelOffset": 18}}
          }
        },
        {
          "data": {"name": "p1"},
          "mark": {"type": "errorbar", "ticks": {"size": 4}, "thickness": 1, "opacity": 0.3, "clip": true},
          "encoding": {
            "x": {"field": "t", "type": "quantitative", "scale": {"domain": [-5, 40], "nice": false},
                  "axis": {"values": [0, 10, 20, 30, 40], "title": ["Time since GRB", "(minutes)"]}},
            "y": {"field": "m", "type": "quantitative", "scale": {"domain": [14.69, 17.2], "reverse": true, "nice": false, "zero": false},
                  "axis": {"values": [15, 15.5, 16, 16.5, 17], "format": ".1f", "title": "AB Magnitude"}},
            "yError": {"field": "e"},
            "color": {"field": "b", "type": "nominal"}
          }
        },
        {
          "data": {"name": "p1lim"},
          "mark": {"type": "point", "shape": "triangle-down", "filled": false, "size": 70, "strokeWidth": 1.5, "opacity": 1},
          "encoding": {
            "x": {"field": "t", "type": "quantitative", "axis": {"orient": "top", "values": [0, 10, 20, 30, 40], "labels": false, "title": null}},
            "y": {"field": "m", "type": "quantitative", "axis": {"orient": "right", "values": [15, 15.5, 16, 16.5, 17], "labels": false, "title": null}},
            "color": {"field": "b", "type": "nominal"}
          }
        }
      ],
      "resolve": {"axis": {"x": "independent", "y": "independent"}}
    },
    {
      "width": 276,
      "height": 227,
      "layer": [
        {
          "data": {"name": "p2c"},
          "mark": {"type": "line", "strokeWidth": 2, "clip": true},
          "encoding": {
            "x": {"field": "t", "type": "quantitative", "scale": {"domain": [-0.5, 8], "nice": false},
                  "axis": {"values": [0, 2, 4, 6, 8], "title": ["Time since GRB", "(hours)"]}},
            "y": {"field": "m", "type": "quantitative", "scale": {"domain": [14.71, 19.1], "reverse": true, "nice": false, "zero": false},
                  "axis": {"values": [15, 16, 17, 18, 19], "format": "d", "title": null}},
            "color": {"field": "b", "type": "nominal"}
          }
        },
        {
          "data": {"name": "p2"},
          "mark": {"type": "point", "filled": true, "size": 100, "fillOpacity": 0.6, "stroke": "black", "strokeOpacity": 0.5, "strokeWidth": 0.8},
          "encoding": {
            "x": {"field": "t", "type": "quantitative", "axis": null},
            "y": {"field": "m", "type": "quantitative", "axis": null},
            "color": {"field": "b", "type": "nominal"},
            "shape": {"datum": "15 min cadence", "scale": {"range": ["triangle-up"]},
              "legend": {"orient": "top-right", "offset": 13, "title": null, "symbolFillColor": "#d3d3d3", "symbolStrokeColor": "black",
                         "symbolStrokeWidth": 1, "symbolSize": 110, "symbolOpacity": 1, "labelFontSize": 14.5, "labelOffset": 18}}
          }
        },
        {
          "data": {"values": [{"t": -0.083, "t2": 0.667, "m": 14.69, "m2": 17.2}]},
          "mark": {"type": "rect", "filled": false, "color": "#333333", "strokeWidth": 2, "strokeDash": [5, 3]},
          "encoding": {
            "x": {"field": "t", "type": "quantitative", "axis": null},
            "x2": {"field": "t2"},
            "y": {"field": "m", "type": "quantitative", "axis": null},
            "y2": {"field": "m2"}
          }
        },
        {
          "data": {"values": [
            {"t": -2.213, "m": 19.1, "t2": 0.667, "m2": 17.2},
            {"t": -2.213, "m": 14.71, "t2": -0.083, "m2": 14.71}
          ]},
          "mark": {"type": "rule", "color": "#888888", "strokeWidth": 1.3, "strokeDash": [6, 4], "clip": false},
          "encoding": {
            "x": {"field": "t", "type": "quantitative", "axis": {"orient": "top", "values": [0, 2, 4, 6, 8], "labels": false, "title": null}},
            "x2": {"field": "t2"},
            "y": {"field": "m", "type": "quantitative", "axis": {"orient": "right", "values": [15, 16, 17, 18, 19], "labels": false, "title": null}},
            "y2": {"field": "m2"}
          }
        }
      ],
      "resolve": {"axis": {"x": "independent", "y": "independent"}}
    },
    {
      "width": 276,
      "height": 227,
      "layer": [
        {
          "data": {"name": "p3c"},
          "mark": {"type": "line", "strokeWidth": 2, "clip": true},
          "encoding": {
            "x": {"field": "t", "type": "quantitative", "scale": {"domain": [-0.2, 3.5], "nice": false},
                  "axis": {"values": [0, 1, 2, 3], "title": ["Time since GRB", "(days)"]}},
            "y": {"field": "m", "type": "quantitative", "scale": {"domain": [14.67, 23.0], "reverse": true, "nice": false, "zero": false},
                  "axis": {"values": [16, 18, 20, 22], "format": "d", "title": null}},
            "color": {"field": "b", "type": "nominal"}
          }
        },
        {
          "data": {"name": "p3dm"},
          "mark": {"type": "errorbar", "ticks": {"size": 4}, "thickness": 1.2, "opacity": 0.55},
          "encoding": {
            "x": {"field": "t", "type": "quantitative", "axis": null},
            "xError": {"field": "xe"},
            "y": {"field": "m", "type": "quantitative", "axis": null},
            "color": {"field": "b", "type": "nominal"}
          }
        },
        {
          "data": {"name": "p3lim"},
          "mark": {"type": "point", "shape": "triangle-down", "filled": false, "size": 70, "strokeWidth": 1.5, "opacity": 1},
          "encoding": {
            "x": {"field": "t", "type": "quantitative", "axis": null},
            "y": {"field": "m", "type": "quantitative", "axis": null},
            "color": {"field": "b", "type": "nominal"}
          }
        },
        {
          "data": {"name": "p3sq"},
          "mark": {"type": "point", "filled": true, "size": 120, "fillOpacity": 0.7, "stroke": "#333333", "strokeOpacity": 0.7, "strokeWidth": 1},
          "encoding": {
            "x": {"field": "t", "type": "quantitative", "axis": null},
            "y": {"field": "m", "type": "quantitative", "axis": null},
            "color": {"field": "b", "type": "nominal"},
            "shape": {"datum": "60 min cadence", "scale": {"domain": ["60 min cadence", "Nightly cadence"], "range": ["square", "diamond"]},
              "legend": {"orient": "top-right", "offset": 13, "title": null, "symbolFillColor": "#d3d3d3", "symbolStrokeColor": "black",
                         "symbolStrokeWidth": 1, "symbolSize": 130, "symbolOpacity": 1, "labelFontSize": 14.5, "labelOffset": 18, "rowPadding": 8}}
          }
        },
        {
          "data": {"name": "p3dm"},
          "mark": {"type": "point", "filled": true, "size": 210, "fillOpacity": 0.8, "stroke": "#333333", "strokeOpacity": 0.8, "strokeWidth": 1},
          "encoding": {
            "x": {"field": "t", "type": "quantitative", "axis": null},
            "y": {"field": "m", "type": "quantitative", "axis": null},
            "color": {"field": "b", "type": "nominal"},
            "shape": {"datum": "Nightly cadence",
              "legend": {"orient": "top-right", "offset": 13, "title": null, "symbolFillColor": "#d3d3d3", "symbolStrokeColor": "black",
                         "symbolStrokeWidth": 1, "symbolSize": 130, "symbolOpacity": 1, "labelFontSize": 14.5, "labelOffset": 18, "rowPadding": 8}}
          }
        },
        {
          "data": {"values": [{"t": -0.0208, "t2": 0.333, "m": 14.71, "m2": 19.1}]},
          "mark": {"type": "rect", "filled": false, "color": "#333333", "strokeWidth": 2, "strokeDash": [5, 3]},
          "encoding": {
            "x": {"field": "t", "type": "quantitative", "axis": null},
            "x2": {"field": "t2"},
            "y": {"field": "m", "type": "quantitative", "axis": null},
            "y2": {"field": "m2"}
          }
        },
        {
          "data": {"values": [
            {"t": -0.923, "m": 23.03, "t2": 0.333, "m2": 19.1},
            {"t": -0.923, "m": 14.67, "t2": -0.0208, "m2": 14.67}
          ]},
          "mark": {"type": "rule", "color": "#888888", "strokeWidth": 1.3, "strokeDash": [6, 4], "clip": false},
          "encoding": {
            "x": {"field": "t", "type": "quantitative", "axis": {"orient": "top", "values": [0, 1, 2, 3], "labels": false, "title": null}},
            "x2": {"field": "t2"},
            "y": {"field": "m", "type": "quantitative", "axis": {"orient": "right", "values": [16, 18, 20, 22], "labels": false, "title": null}},
            "y2": {"field": "m2"}
          }
        }
      ],
      "resolve": {"axis": {"x": "independent", "y": "independent"}}
    }
  ],
  "resolve": {"scale": {"shape": "independent"}, "legend": {"shape": "independent"}},
  "config": {
    "view": {"stroke": "black", "strokeWidth": 2},
    "font": "DejaVu Serif",
    "range": {"category": ["#1E90FF", "#FF4500"]},
    "axis": {
      "grid": false, "domain": false, "tickSize": -7, "tickWidth": 2, "tickColor": "black",
      "labelFont": "DejaVu Serif", "labelFontSize": 16, "labelColor": "black", "labelPadding": 8,
      "labelFlush": false, "labelOverlap": false,
      "titleFont": "DejaVu Serif", "titleFontSize": 20.5, "titleFontWeight": "normal", "titleColor": "black", "titleLineHeight": 25
    },
    "axisY": {"titlePadding": 21, "labelPadding": 7},
    "axisX": {"titlePadding": 8},
    "legend": {"labelFont": "DejaVu Serif", "labelColor": "black"}
  }
}
